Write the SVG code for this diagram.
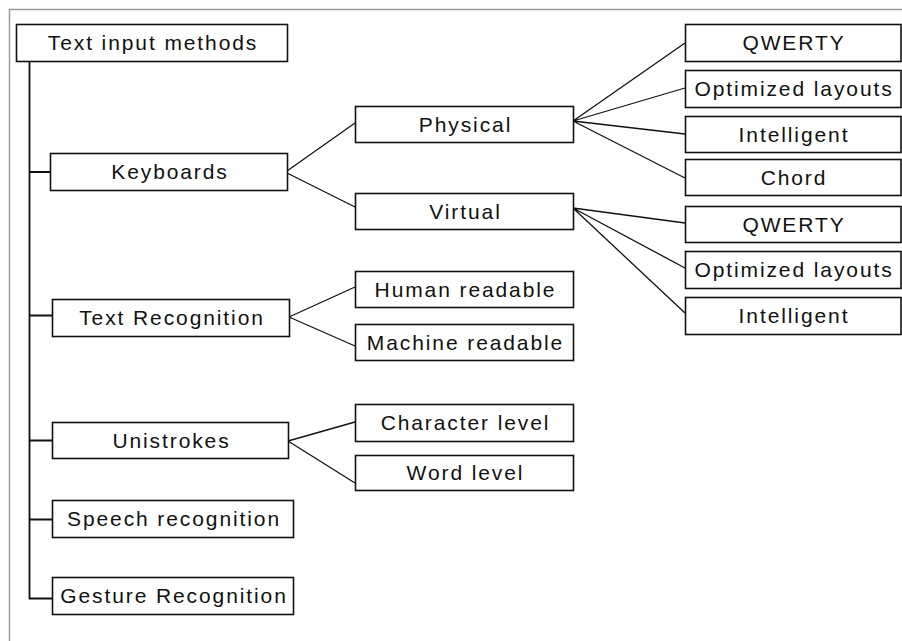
<svg xmlns="http://www.w3.org/2000/svg" width="902" height="641" viewBox="0 0 902 641">
<style>
.box{fill:#fff;stroke:#111;stroke-width:1.6}
.lbl{font-family:"Liberation Sans",Arial,sans-serif;font-size:21px;letter-spacing:1.9px;fill:#111;text-anchor:middle}
.con{stroke:#111;stroke-width:1.3;fill:none}
.trunk{stroke:#111;stroke-width:1.8;fill:none}
.frame{stroke:#9a9a9a;stroke-width:1.5;fill:none}
</style>
<rect x="0" y="0" width="902" height="641" fill="#fff"/>
<path class="frame" d="M9.5,641 V9.5 H902"/>
<g id="connectors">
<path class="trunk" d="M29.5,61 V598.5 H52"/>
<path class="trunk" d="M29.5,172 H50 M29.5,315.5 H52 M29.5,440.5 H52 M29.5,519.5 H52"/>
<path class="con" d="M287,171 L355,123 M287,173 L355,207"/>
<path class="con" d="M573,121 L685,43 M573,121 L685,88 M573,121 L685,134 M573,121 L685,178"/>
<path class="con" d="M573,208 L685,223 M573,208 L685,268 M573,208 L685,313"/>
<path class="con" d="M289,317 L355,287 M289,317 L355,346"/>
<path class="con" d="M288,441 L355,422 M288,441 L355,483"/>
</g>
<g id="n-root"><rect class="box" x="16.5" y="24.5" width="271" height="37"/><text class="lbl" x="153" y="50">Text input methods</text></g>
<g id="n-keyboards"><rect class="box" x="50.5" y="153.5" width="237" height="37"/><text class="lbl" x="170" y="179">Keyboards</text></g>
<g id="n-textrec"><rect class="box" x="52.5" y="299.5" width="237" height="37"/><text class="lbl" x="172" y="325">Text Recognition</text></g>
<g id="n-unistrokes"><rect class="box" x="52.5" y="422.5" width="236" height="36"/><text class="lbl" x="171.5" y="448">Unistrokes</text></g>
<g id="n-speech"><rect class="box" x="52.5" y="500.5" width="241" height="37"/><text class="lbl" x="174" y="526">Speech recognition</text></g>
<g id="n-gesture"><rect class="box" x="52.5" y="577.5" width="241" height="37"/><text class="lbl" x="174" y="603">Gesture Recognition</text></g>
<g id="n-physical"><rect class="box" x="355.5" y="106.5" width="218" height="36"/><text class="lbl" x="465.5" y="132">Physical</text></g>
<g id="n-virtual"><rect class="box" x="355.5" y="193.5" width="218" height="36"/><text class="lbl" x="465.5" y="219">Virtual</text></g>
<g id="n-human"><rect class="box" x="355.5" y="271.5" width="218" height="36"/><text class="lbl" x="465.5" y="297">Human readable</text></g>
<g id="n-machine"><rect class="box" x="355.5" y="324.5" width="218" height="36"/><text class="lbl" x="465.5" y="350">Machine readable</text></g>
<g id="n-char"><rect class="box" x="355.5" y="404.5" width="218" height="37"/><text class="lbl" x="465.5" y="430">Character level</text></g>
<g id="n-word"><rect class="box" x="355.5" y="455.5" width="218" height="35"/><text class="lbl" x="465.5" y="480">Word level</text></g>
<g id="n-qwerty1"><rect class="box" x="685.5" y="24.5" width="215.5" height="37"/><text class="lbl" x="794" y="50">QWERTY</text></g>
<g id="n-opt1"><rect class="box" x="685.5" y="70.5" width="215.5" height="37"/><text class="lbl" x="794" y="96">Optimized layouts</text></g>
<g id="n-intel1"><rect class="box" x="685.5" y="116.5" width="215.5" height="36"/><text class="lbl" x="794" y="142">Intelligent</text></g>
<g id="n-chord"><rect class="box" x="685.5" y="159.5" width="215.5" height="36"/><text class="lbl" x="794" y="185">Chord</text></g>
<g id="n-qwerty2"><rect class="box" x="685.5" y="206.5" width="215.5" height="36"/><text class="lbl" x="794" y="232">QWERTY</text></g>
<g id="n-opt2"><rect class="box" x="685.5" y="251.5" width="215.5" height="37"/><text class="lbl" x="794" y="277">Optimized layouts</text></g>
<g id="n-intel2"><rect class="box" x="685.5" y="297.5" width="215.5" height="37"/><text class="lbl" x="794" y="323">Intelligent</text></g>
</svg>
